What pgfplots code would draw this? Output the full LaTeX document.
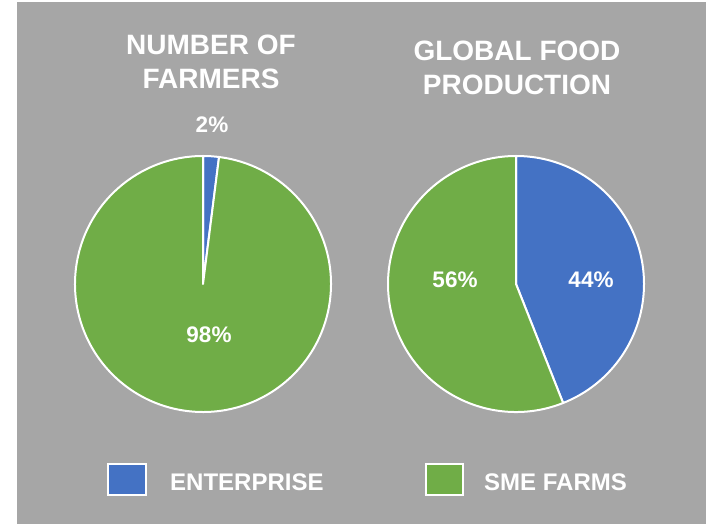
\documentclass[border=0pt]{standalone}
\usepackage{pgfplots}
\usepackage{pgfplotstable}
\pgfplotsset{compat=1.18}
\usepackage{fontspec}
\setmainfont{Liberation Sans}

\definecolor{bggray}{HTML}{A6A6A6}
\definecolor{pieblue}{HTML}{4472C4}
\definecolor{piegreen}{HTML}{70AD47}

% shares in percent: enterprise, SME farms
\pgfplotstableread{
group share
Enterprise 2
SME 98
}\farmers
\pgfplotstableread{
group share
Enterprise 44
SME 56
}\food

% one wedge of a pie, radius 1 in axis units (= 128pt)
\newcommand{\slice}[3]{%
  \filldraw[fill=#1, draw=white, line width=2pt, line join=round]
    (axis cs:0,0) -- (axis cs:{cos(#2)},{sin(#2)})
    arc[start angle=#2, end angle=#3, radius=128pt] -- cycle;}

\pgfplotsset{
  pieaxis/.style={
    x=128pt, y=128pt,
    xmin=-1.1, xmax=1.1, ymin=-1.1, ymax=1.1,
    hide axis, anchor=center, clip=false
  }
}

\begin{document}
\begin{tikzpicture}[x=1pt, y=1pt]
\useasboundingbox (0,0) rectangle (706,524);
\fill[white] (0,0) rectangle (706,524);
\fill[bggray] (17,0) rectangle (706,522);

\pgfplotstablegetelem{0}{share}\of\farmers
\pgfmathsetmacro\fa{90-3.6*\pgfplotsretval}
\pgfplotstablegetelem{0}{share}\of\food
\pgfmathsetmacro\fb{90-3.6*\pgfplotsretval}

\begin{axis}[pieaxis, at={(203pt,240pt)}]
\slice{pieblue}{90}{\fa}
\slice{piegreen}{\fa}{-270}
\end{axis}

\begin{axis}[pieaxis, at={(516pt,240pt)}]
\slice{pieblue}{90}{\fb}
\slice{piegreen}{\fb}{-270}
\end{axis}

\begin{scope}[every node/.style={text=white, font=\bfseries, inner sep=0pt}]
% titles
\node[anchor=base, font=\bfseries\fontsize{28}{33}\selectfont] at (211,469) {NUMBER OF};
\node[anchor=base, font=\bfseries\fontsize{28}{33}\selectfont] at (211,435) {FARMERS};
\node[anchor=base, font=\bfseries\fontsize{28}{33}\selectfont] at (517,463) {GLOBAL FOOD};
\node[anchor=base, font=\bfseries\fontsize{28}{33}\selectfont] at (517,429) {PRODUCTION};
% slice labels
\node[anchor=base, font=\bfseries\fontsize{22.5}{27}\selectfont] at (212,391) {2\%};
\node[anchor=base, font=\bfseries\fontsize{22.5}{27}\selectfont] at (209,181) {98\%};
\node[anchor=base, font=\bfseries\fontsize{22.5}{27}\selectfont] at (455,236) {56\%};
\node[anchor=base, font=\bfseries\fontsize{22.5}{27}\selectfont] at (591,236) {44\%};
% legend
\filldraw[fill=pieblue, draw=white, line width=1.5pt] (108,29) rectangle (146,60);
\filldraw[fill=piegreen, draw=white, line width=1.5pt] (426,29) rectangle (463,60);
\node[anchor=base west, font=\bfseries\fontsize{24}{29}\selectfont] at (170,33) {ENTERPRISE};
\node[anchor=base west, font=\bfseries\fontsize{24}{29}\selectfont] at (484,33) {SME FARMS};
\end{scope}
\end{tikzpicture}
\end{document}
